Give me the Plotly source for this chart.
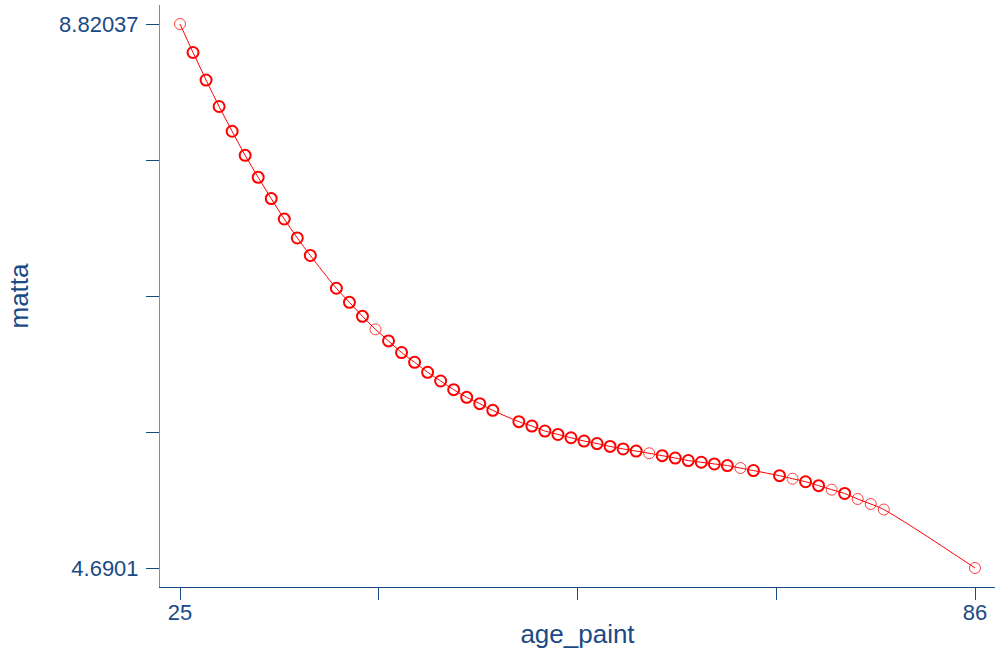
import plotly.graph_objects as go

ages = [25, 26, 27, 28, 29, 30, 31, 32, 33, 34, 35, 37, 38, 39, 40, 41, 42, 43, 44, 45,
        46, 47, 48, 49, 51, 52, 53, 54, 55, 56, 57, 58, 59, 60, 61, 62, 63, 64, 65, 66,
        67, 68, 69, 71, 72, 73, 74, 75, 76, 77, 78, 79, 86]
matta = [8.82037, 8.604, 8.395, 8.194, 8.006, 7.823, 7.656, 7.495, 7.340, 7.196, 7.063,
         6.814, 6.707, 6.601, 6.502, 6.414, 6.326, 6.252, 6.176, 6.110, 6.044, 5.986,
         5.938, 5.887, 5.801, 5.768, 5.730, 5.704, 5.679, 5.654, 5.635, 5.613, 5.594,
         5.578, 5.561, 5.543, 5.525, 5.506, 5.493, 5.480, 5.468, 5.449, 5.430, 5.391,
         5.368, 5.345, 5.315, 5.285, 5.256, 5.214, 5.176, 5.134, 4.6901]
# number of observations sharing each point (1 = single, drawn lighter)
n_obs = [1, 2, 2, 2, 2, 2, 2, 2, 2, 2, 2, 2, 2, 2, 1, 2, 2, 2, 2, 2, 2, 2, 2, 2, 2, 2,
         2, 2, 2, 2, 2, 2, 2, 2, 1, 2, 2, 2, 2, 2, 2, 1, 2, 2, 1, 2, 2, 1, 2, 1, 1, 1, 1]

x_ticks = [25, 40.25, 55.5, 70.75, 86]
x_ticktext = ["25", "", "", "", "86"]
y_min, y_max = 4.6901, 8.82037
y_ticks = [y_min + i * (y_max - y_min) / 4 for i in range(5)]
y_ticktext = ["4.6901", "", "", "", "8.82037"]

navy = "#1a4a86"
font = "Arial, Liberation Sans, sans-serif"

fig = go.Figure()
fig.add_trace(go.Scatter(x=ages, y=matta, mode="lines",
                         line=dict(color="red", width=1, shape="spline", smoothing=1.0),
                         hoverinfo="skip", showlegend=False))
single = [i for i, n in enumerate(n_obs) if n == 1]
multi = [i for i, n in enumerate(n_obs) if n > 1]
fig.add_trace(go.Scatter(x=[ages[i] for i in single], y=[matta[i] for i in single],
                         mode="markers", showlegend=False,
                         marker=dict(symbol="circle-open", size=11, color="rgba(255,0,0,0.75)",
                                     line=dict(width=1))))
fig.add_trace(go.Scatter(x=[ages[i] for i in multi], y=[matta[i] for i in multi],
                         mode="markers", showlegend=False,
                         marker=dict(symbol="circle-open", size=11, color="red",
                                     line=dict(width=2))))

px_per_year = (975 - 180) / 61
px_per_unit = (568 - 24) / (y_max - y_min)

fig.update_layout(
    width=995, height=653,
    margin=dict(l=160, r=0, t=5, b=66, autoexpand=False),
    paper_bgcolor="white", plot_bgcolor="white",
    font=dict(family=font, size=22, color=navy),
    xaxis=dict(range=[25 - 20 / px_per_year, 86 + 20 / px_per_year],
               tickvals=x_ticks, ticktext=x_ticktext, ticks="outside", ticklen=12,
               tickcolor=navy, showline=True, linecolor=navy, linewidth=1,
               showgrid=False, zeroline=False, automargin=False, ticklabelstandoff=-6,
               title=dict(text="age_paint", standoff=0)),
    yaxis=dict(range=[y_min - 19 / px_per_unit, y_max + 19 / px_per_unit],
               tickvals=y_ticks, ticktext=y_ticktext, ticks="outside", ticklen=13,
               tickcolor=navy, showline=True, linecolor="#6e90bd", linewidth=1,
               showgrid=False, zeroline=False, ticklabelstandoff=3, automargin=False,
               title=dict(text="matta", standoff=22)),
)

fig.write_html("out.html", config={"displayModeBar": False},
               post_script="document.body.style.margin='0';")
